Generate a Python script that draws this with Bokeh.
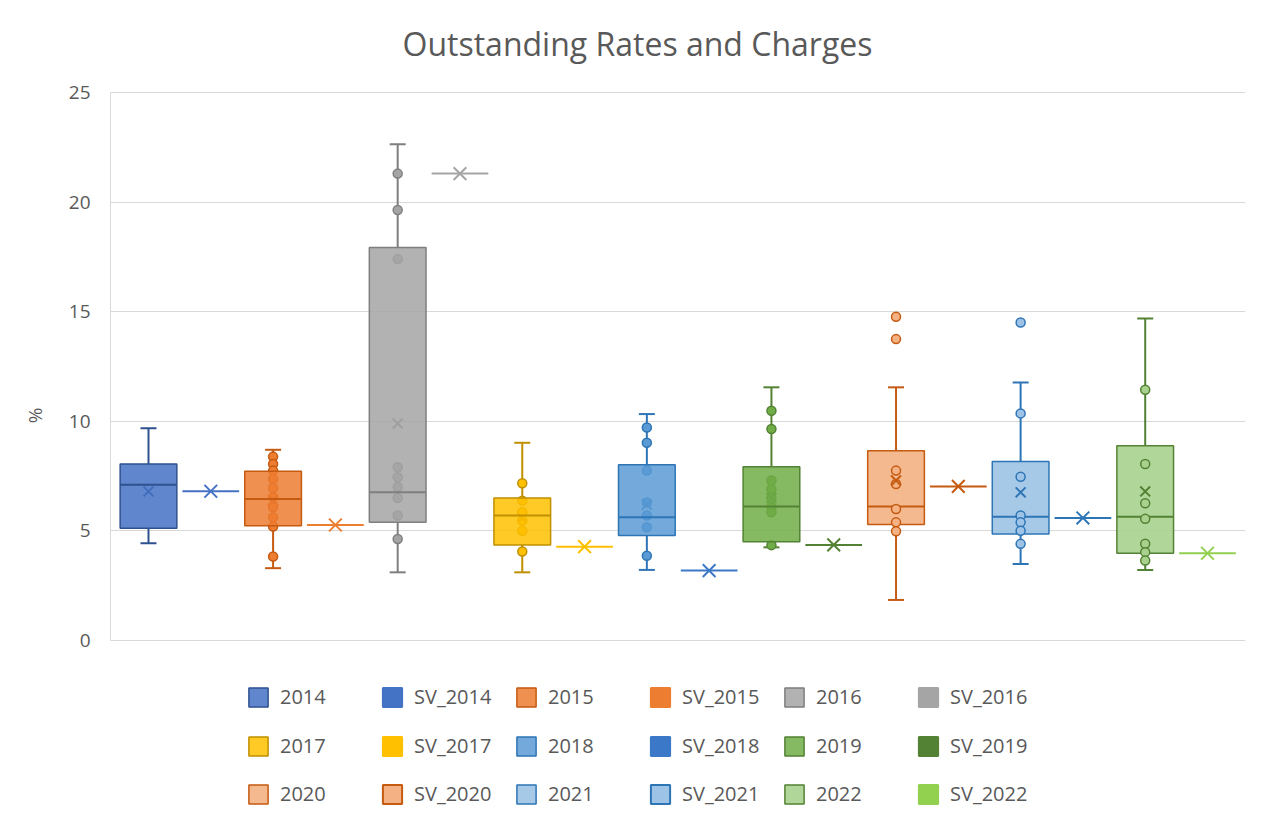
from bokeh.plotting import figure
from bokeh.models import Range1d, FixedTicker, Legend, LegendItem, Label
from bokeh.embed import file_html
from bokeh.resources import INLINE

# ---------------- data ----------------
years = ["2014", "2015", "2016", "2017", "2018", "2019", "2020", "2021", "2022"]
sv_names = ["SV_2014", "SV_2015", "SV_2016", "SV_2017", "SV_2018",
            "SV_2019", "SV_2020", "SV_2021", "SV_2022"]

whisker_low = [4.44, 3.30, 3.11, 3.11, 3.22, 4.25, 1.85, 3.49, 3.22]
q1 = [5.12, 5.24, 5.39, 4.36, 4.79, 4.51, 5.29, 4.86, 3.98]
median = [7.10, 6.46, 6.76, 5.70, 5.62, 6.11, 6.11, 5.65, 5.65]
q3 = [8.05, 7.72, 17.93, 6.50, 8.02, 7.93, 8.66, 8.17, 8.89]
whisker_high = [9.68, 8.70, 22.64, 9.02, 10.33, 11.55, 11.55, 11.77, 14.69]
mean = [6.80, 6.40, 9.90, 5.60, 6.20, 6.50, 7.30, 6.76, 6.80]
sv_values = [6.81, 5.27, 21.30, 4.28, 3.19, 4.36, 7.03, 5.59, 3.98]

points_2014 = []
points_2015 = [8.39, 8.05, 7.75, 7.37, 6.96, 6.53, 6.08, 5.62, 5.20, 3.83]
points_2016 = [21.30, 19.64, 17.40, 7.90, 7.45, 7.00, 6.50, 5.70, 4.63]
points_2017 = [7.17, 6.38, 5.85, 5.47, 5.01, 4.06]
points_2018 = [9.72, 9.02, 7.75, 6.30, 5.70, 5.17, 3.87]
points_2019 = [10.48, 9.65, 7.30, 6.90, 6.50, 6.08, 5.85, 4.35]
points_2020 = [14.77, 13.75, 7.75, 7.14, 6.00, 5.39, 4.98]
points_2021 = [14.51, 10.36, 7.47, 5.70, 5.39, 5.01, 4.41]
points_2022 = [11.44, 8.05, 6.26, 5.55, 4.41, 4.03, 3.65]
points = [points_2014, points_2015, points_2016, points_2017, points_2018,
          points_2019, points_2020, points_2021, points_2022]

y_ticks = [0, 5, 10, 15, 20, 25]
title_text = "Outstanding Rates and Charges"

# ---------------- styles ----------------
box_fill = ["#4472C4", "#ED7D31", "#A5A5A5", "#FFC000", "#5B9BD5",
            "#70AD47", "#F4B183", "#9DC3E6", "#A9D18E"]
box_line = ["#2F528F", "#C55A11", "#7F7F7F", "#BF9000", "#2E75B6",
            "#548235", "#C55A11", "#2E75B6", "#548235"]
sv_fill = ["#4472C4", "#ED7D31", "#A5A5A5", "#FFC000", "#3C78C8",
           "#548235", "#F4B183", "#9DC3E6", "#92D050"]
sv_line = ["#4472C4", "#ED7D31", "#A5A5A5", "#FFC000", "#3C78C8",
           "#548235", "#C55A11", "#2E75B6", "#92D050"]
points_on_top = [False, False, False, False, False, False, True, True, True]

FONT = "Open Sans"
TXT = "#595959"
BOX_W = 0.91

# The frame covers the whole height of the canvas (axis and grid are bounded to 0..25),
# so that the title and legend drawn inside it are not clipped.
p = figure(width=1250, height=830, output_backend="svg", toolbar_location=None,
           x_range=Range1d(-0.61, 17.61), y_range=Range1d(-8.668, 29.197),
           x_axis_location=None,
           min_border_left=110, min_border_right=5,
           min_border_top=0, min_border_bottom=0)
p.title.visible = False
p.outline_line_color = None
p.background_fill_color = "white"
p.border_fill_color = "white"

p.add_layout(Label(x=527, y=787, x_units="screen", y_units="screen", text=title_text,
                   text_align="center", text_baseline="alphabetic",
                   text_font=FONT, text_font_size="32px", text_color=TXT))

p.xgrid.visible = False
p.ygrid.grid_line_color = "#D9D9D9"
p.ygrid.grid_line_width = 1
p.ygrid.bounds = (0, 25)

p.yaxis.bounds = (0, 25)
p.yaxis.ticker = FixedTicker(ticks=y_ticks)
p.yaxis.axis_line_color = "#D9D9D9"
p.yaxis.major_tick_line_color = None
p.yaxis.minor_tick_line_color = None
p.yaxis.major_tick_out = 0
p.yaxis.major_label_standoff = 20
p.yaxis.major_label_text_font = FONT
p.yaxis.major_label_text_font_size = "19px"
p.yaxis.major_label_text_color = TXT
p.yaxis.axis_label = "%"
p.yaxis.axis_label_text_font = FONT
p.yaxis.axis_label_text_font_size = "19px"
p.yaxis.axis_label_text_font_style = "normal"
p.yaxis.axis_label_text_color = TXT
p.yaxis.axis_label_standoff = 18

box_renderers = []
sv_renderers = []
for i, yr in enumerate(years):
    xb = 2 * i
    xs = 2 * i + 1
    fc, lc = box_fill[i], box_line[i]

    # whiskers
    p.segment(x0=[xb, xb], y0=[q3[i], whisker_low[i]], x1=[xb, xb], y1=[whisker_high[i], q1[i]],
              line_color=lc, line_width=2)
    p.scatter(x=[xb, xb], y=[whisker_high[i], whisker_low[i]], marker="dash",
              size=16, line_color=lc, line_width=2)

    def draw_points():
        if points[i]:
            p.scatter(x=[xb] * len(points[i]), y=points[i], marker="circle", size=9,
                      fill_color=fc, line_color=lc, line_width=1.5)
        p.scatter(x=[xb], y=[mean[i]], marker="x", size=14, line_color=lc, line_width=2)

    if not points_on_top[i]:
        draw_points()
        alpha = 0.85
    else:
        alpha = 0.9

    r = p.vbar(x=[xb], width=BOX_W, bottom=[q1[i]], top=[q3[i]],
               fill_color=fc, fill_alpha=alpha, line_color=lc, line_width=1.5)
    box_renderers.append(r)
    p.vbar(x=[xb], width=BOX_W, bottom=[median[i]], top=[median[i]],
           fill_color=None, line_color=lc, line_width=2)

    if points_on_top[i]:
        draw_points()

    # single value series
    rs = p.vbar(x=[xs], width=BOX_W, bottom=[sv_values[i]], top=[sv_values[i]],
                fill_color=sv_fill[i], line_color=sv_line[i], line_width=2)
    sv_renderers.append(rs)
    p.scatter(x=[xs], y=[sv_values[i]], marker="x", size=18,
              line_color=sv_line[i], line_width=2)

# legend: 3 rows of 6 entries
row_y = [120, 71, 23]
for row in range(3):
    items = []
    for j in range(3):
        k = row * 3 + j
        items.append(LegendItem(label=years[k], renderers=[box_renderers[k]]))
        items.append(LegendItem(label=sv_names[k], renderers=[sv_renderers[k]]))
    leg = Legend(items=items, orientation="horizontal", location=(136, row_y[row]),
                 glyph_width=24, glyph_height=24, label_standoff=10, label_width=100,
                 label_height=24, spacing=0, padding=0, margin=0,
                 border_line_color=None, background_fill_alpha=0,
                 label_text_font=FONT, label_text_font_size="20px",
                 label_text_color=TXT)
    p.add_layout(leg)

open("out.html", "w").write(file_html(p, INLINE))
